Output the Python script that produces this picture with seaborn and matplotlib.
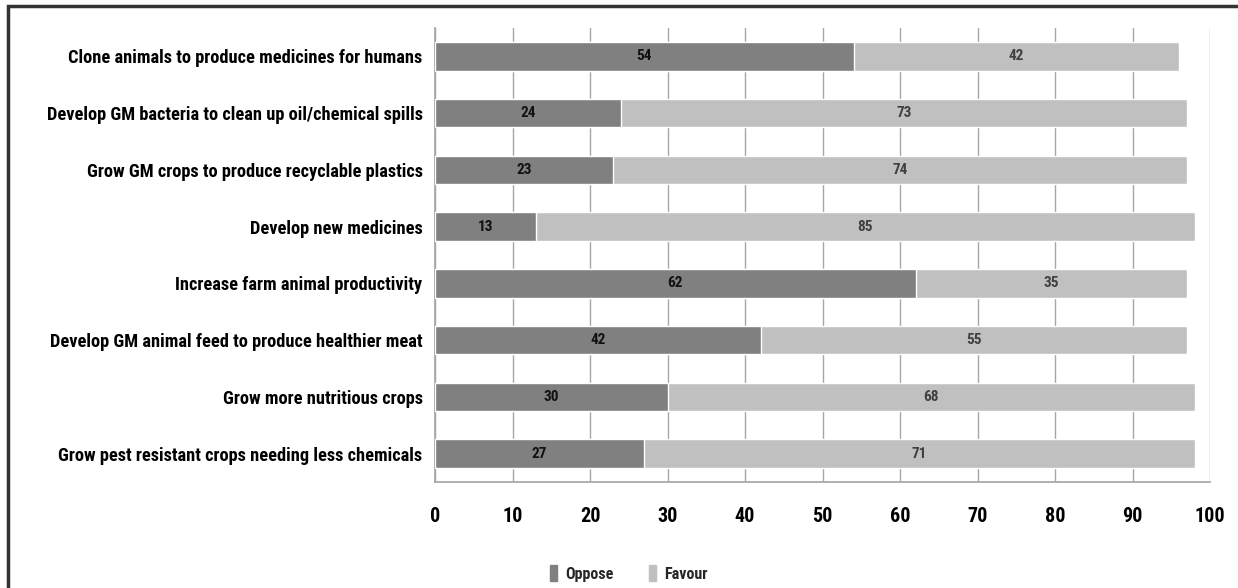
import matplotlib
matplotlib.use("Agg")
import matplotlib.pyplot as plt
import matplotlib.patches as mpatches
import seaborn as sns
import pandas as pd

categories = [
    "Clone animals to produce medicines for humans",
    "Develop GM bacteria to clean up oil/chemical spills",
    "Grow GM crops to produce recyclable plastics",
    "Develop new medicines",
    "Increase farm animal productivity",
    "Develop GM animal feed to produce healthier meat",
    "Grow more nutritious crops",
    "Grow pest resistant crops needing less chemicals",
]
oppose = [54, 24, 23, 13, 62, 42, 30, 27]
favour = [42, 73, 74, 85, 35, 55, 68, 71]
x_ticks = [0, 10, 20, 30, 40, 50, 60, 70, 80, 90, 100]

OPPOSE_COLOR = "#808080"
FAVOUR_COLOR = "#c0c0c0"
FONT = ["Roboto Condensed", "Liberation Sans Narrow", "DejaVu Sans"]

sns.set_theme(style="white")
plt.rcParams["font.family"] = FONT
plt.rcParams["font.stretch"] = "condensed"
plt.rcParams["font.weight"] = "bold"

df = pd.DataFrame({"category": categories, "oppose": oppose, "favour": favour})
df["total"] = df["oppose"] + df["favour"]

fig = plt.figure(figsize=(12.38, 5.88), dpi=100)
ax = fig.add_axes([0.3514, 0.1803, 0.9774 - 0.3514, 0.9524 - 0.1803])

sns.barplot(data=df, y="category", x="total", color=FAVOUR_COLOR, width=0.5,
            saturation=1, ax=ax, orient="h", zorder=2)
sns.barplot(data=df, y="category", x="oppose", color=OPPOSE_COLOR, width=0.5,
            saturation=1, ax=ax, orient="h", zorder=3)

# segment value labels
for i, (o, f) in enumerate(zip(oppose, favour)):
    ax.text(o / 2, i, str(o), ha="center", va="center", fontsize=11,
            fontweight="bold", color="#111111", zorder=4)
    ax.text(o + f / 2, i, str(f), ha="center", va="center", fontsize=11,
            fontweight="bold", color="#404040", zorder=4)

ax.set_xlim(0, 100)
ax.set_ylim(len(categories) - 0.5, -0.5)
ax.set_xticks(x_ticks)
ax.set_xticklabels([str(t) for t in x_ticks], fontsize=14.5, fontweight="bold")
ax.set_yticklabels(categories, fontsize=13.2, fontweight="bold")
ax.set_xlabel("")
ax.set_ylabel("")

ax.grid(axis="x", color="#a6a6a6", linewidth=1.0, zorder=0)
ax.set_axisbelow(True)
for side in ["top", "right"]:
    ax.spines[side].set_visible(False)
ax.spines["left"].set_color("#a6a6a6")
ax.spines["bottom"].set_color("#a6a6a6")
ax.tick_params(axis="x", which="both", direction="out", length=6, width=1,
               color="#a6a6a6", pad=12, labelcolor="black")
ax.tick_params(axis="y", length=0, pad=9, labelcolor="black")

handles = [mpatches.Patch(color=OPPOSE_COLOR, label="Oppose"),
           mpatches.Patch(color=FAVOUR_COLOR, label="Favour")]
fig.legend(handles=handles, loc="center", bbox_to_anchor=(0.508, 0.025), ncol=2,
           frameon=False,
           prop={"family": FONT, "weight": "bold", "size": 11.5, "stretch": "condensed"},
           handlelength=0.45, handleheight=1.2, handletextpad=0.5,
           columnspacing=2.2)

# outer frame: left and top edges visible, right and bottom run off the canvas
fig.patches.append(mpatches.Rectangle((8 / 1238, -0.1), 1.2, 1.1 - 6 / 588,
                                      transform=fig.transFigure, fill=False,
                                      edgecolor="#333333", linewidth=2.5))

fig.savefig("out.png", dpi=100)
